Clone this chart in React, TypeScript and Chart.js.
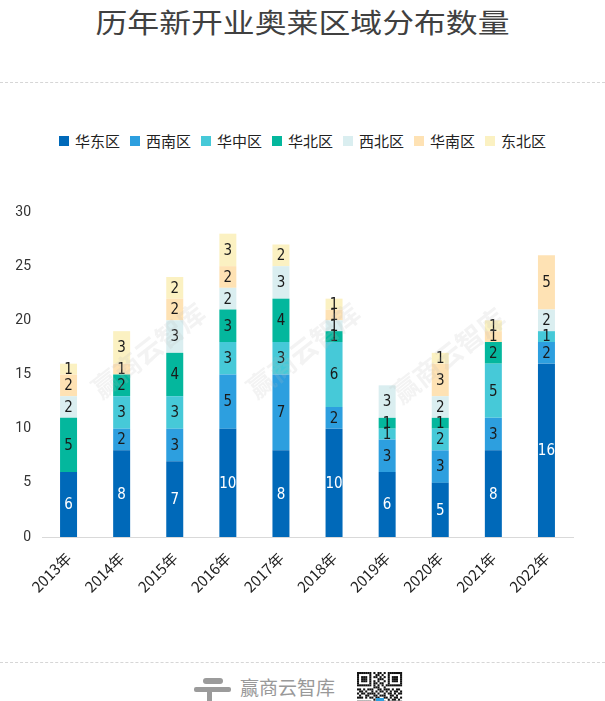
import React, { useEffect, useRef } from "react";
import { Chart, registerables } from "chart.js";
Chart.register(...registerables);

const years = ["2013年", "2014年", "2015年", "2016年", "2017年", "2018年", "2019年", "2020年", "2021年", "2022年"];
const seriesNames = ["华东区", "西南区", "华中区", "华北区", "西北区", "华南区", "东北区"];
const huadong = [6, 8, 7, 10, 8, 10, 6, 5, 8, 16];
const xinan = [0, 2, 3, 5, 7, 2, 3, 3, 3, 2];
const huazhong = [0, 3, 3, 3, 3, 6, 1, 2, 5, 1];
const huabei = [5, 2, 4, 3, 4, 1, 1, 1, 2, 0];
const xibei = [2, 0, 3, 2, 3, 1, 3, 2, 0, 2];
const huanan = [2, 1, 2, 2, 0, 1, 0, 3, 1, 5];
const dongbei = [1, 3, 2, 3, 2, 1, 0, 1, 1, 0];
const colors = ["#0069B9", "#2D9FDF", "#46C9D8", "#04B79D", "#DAEEF0", "#FEE2B4", "#FBF1C2"];
const yTicks = [0, 5, 10, 15, 20, 25, 30];

const seriesValues = [huadong, xinan, huazhong, huabei, xibei, huanan, dongbei];

const labelPlugin = {
  id: "segLabels",
  afterDatasetsDraw(chart: any) {
    const ctx = chart.ctx;
    ctx.save();
    ctx.font = '15px "Liberation Sans Narrow", "DejaVu Sans Condensed", sans-serif';
    ctx.textAlign = "center";
    ctx.textBaseline = "middle";
    chart.data.datasets.forEach((ds: any, di: number) => {
      const meta = chart.getDatasetMeta(di);
      meta.data.forEach((el: any, i: number) => {
        const v = ds.data[i];
        if (!v) return;
        ctx.fillStyle = di === 0 ? "#ffffff" : "#1a1a1a";
        ctx.fillText(String(v), el.x, (el.y + el.base) / 2 + 1);
      });
    });
    ctx.restore();
  },
};

function QR() {
  const rows = [
    "1111111010110101111111",
    "1000001001101001000001",
    "1011101011010101011101",
    "1011101000111001011101",
    "1011101010100101011101",
    "1000001011011001000001",
    "1111111010101011111111",
    "0000000011100100000000",
    "1101011100110111010110",
    "0110100101011010101101",
    "1011011110100101101011",
    "0100110011011100110100",
    "1110101101100110101101",
    "0000000010110001011010",
    "1111111001011101100101",
    "1000001011000110110011",
  ];
  const s = 2.05;
  return (
    <svg width={46} height={34} style={{ position: "absolute", left: 357, top: 672 }}>
      {rows.map((r, y) =>
        r.split("").map((c, x) =>
          c === "1" ? <rect key={x + "-" + y} x={x * s} y={y * s} width={s} height={s} fill="#111" /> : null
        )
      )}
      <rect x={19} y={26} width={8} height={4} fill="#2D9FDF" />
    </svg>
  );
}

export default function App() {
  const ref = useRef<HTMLCanvasElement>(null);
  useEffect(() => {
    if (!ref.current) return;
    const chart = new Chart(ref.current, {
      type: "bar",
      data: {
        labels: years,
        datasets: seriesValues.map((vals, i) => ({
          label: seriesNames[i],
          data: vals,
          backgroundColor: colors[i],
          borderWidth: 0,
          barPercentage: 0.32,
          categoryPercentage: 1,
        })),
      },
      options: {
        responsive: false,
        animation: false,
        devicePixelRatio: 1,
        layout: { padding: { top: 22, left: 0, right: 32, bottom: 23 } },
        plugins: { legend: { display: false }, tooltip: { enabled: false }, title: { display: false } },
        scales: {
          x: {
            stacked: true,
            grid: { display: false },
            border: { display: true, color: "#D9D9D9", width: 1 },
            ticks: {
              autoSkip: false,
              minRotation: 45,
              maxRotation: 45,
              color: "#222",
              padding: 4,
              font: { family: '"Noto Sans CJK SC", sans-serif', size: 15 },
            },
            afterFit: (s: any) => {
              s.height = 60;
            },
          },
          y: {
            stacked: true,
            min: 0,
            max: 30,
            grid: { display: false, drawTicks: false },
            border: { display: false },
            afterBuildTicks: (s: any) => {
              s.ticks = yTicks.map((v) => ({ value: v }));
            },
            ticks: {
              color: "#333",
              padding: 11,
              font: { family: "Roboto, sans-serif", size: 14 },
            },
            afterFit: (s: any) => {
              s.width = 42;
            },
          },
        },
      },
      plugins: [labelPlugin],
    });
    return () => chart.destroy();
  }, []);

  const wm = (left: number, top: number) => (
    <div
      style={{
        position: "absolute",
        left,
        top,
        fontSize: 27,
        fontFamily: '"Noto Sans CJK SC", sans-serif',
        fontWeight: 700,
        color: "rgba(190,190,190,0.18)",
        transform: "rotate(-38deg)",
        whiteSpace: "nowrap",
        pointerEvents: "none",
      }}
    >
      赢商云智库
    </div>
  );

  return (
    <div
      style={{
        position: "absolute",
        left: 0,
        top: 0,
        width: 605,
        height: 701,
        background: "#fff",
        overflow: "hidden",
        fontFamily: '"Noto Sans CJK SC", sans-serif',
      }}
    >
      <div
        style={{
          position: "absolute",
          left: 0,
          top: 3,
          width: 605,
          textAlign: "center",
          fontSize: 27,
          lineHeight: "38px",
          color: "#404040",
          transform: "scaleX(1.18)",
          fontWeight: 400,
        }}
      >
        历年新开业奥莱区域分布数量
      </div>
      <div style={{ position: "absolute", left: 0, top: 82, width: 605, borderTop: "1px dashed #D6D6D6" }} />
      <div
        style={{
          position: "absolute",
          left: 0,
          top: 130,
          width: 605,
          display: "flex",
          justifyContent: "center",
          alignItems: "center",
          fontSize: 15,
          color: "#222",
          lineHeight: "22px",
        }}
      >
        {seriesNames.map((n, i) => (
          <div key={n} style={{ display: "flex", alignItems: "center", marginRight: i < seriesNames.length - 1 ? 10 : 0 }}>
            <span style={{ display: "inline-block", width: 10, height: 10, background: colors[i], marginRight: 6 }} />
            <span>{n}</span>
          </div>
        ))}
      </div>
      <canvas ref={ref} width={605} height={430} style={{ position: "absolute", left: 0, top: 190, width: 605, height: 430 }} />
      {wm(80, 330)}
      {wm(235, 330)}
      {wm(380, 335)}
      <div style={{ position: "absolute", left: 0, top: 662, width: 605, borderTop: "1px dashed #D6D6D6" }} />
      <div style={{ position: "absolute", left: 203, top: 678, width: 20, height: 6, borderRadius: 3, background: "#9B9B9B" }} />
      <div style={{ position: "absolute", left: 194, top: 687, width: 37, height: 5, borderRadius: 2, background: "#9B9B9B" }} />
      <div style={{ position: "absolute", left: 207, top: 692, width: 5, height: 10, background: "#9B9B9B" }} />
      <div
        style={{
          position: "absolute",
          left: 240,
          top: 674,
          fontSize: 19,
          lineHeight: "26px",
          color: "#999",
          whiteSpace: "nowrap",
        }}
      >
        赢商云智库
      </div>
      <QR />
    </div>
  );
}
